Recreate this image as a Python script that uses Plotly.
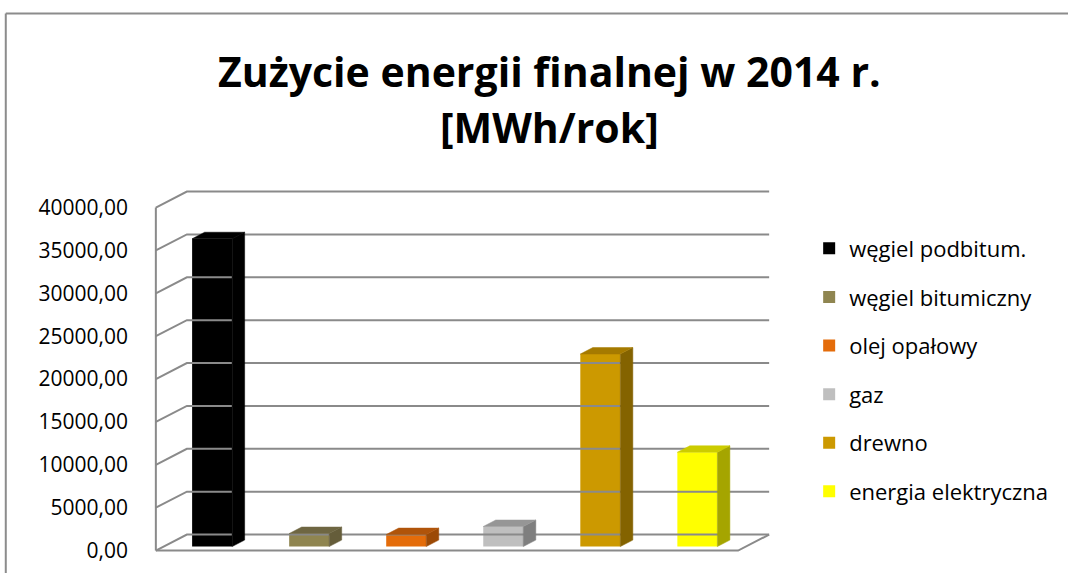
import plotly.graph_objects as go

# ---------------- data ----------------
categories = ["węgiel podbitum.", "węgiel bitumiczny", "olej opałowy", "gaz", "drewno", "energia elektryczna"]
values = [35900, 1520, 1400, 2340, 22450, 11000]
front_colors = ["#000000", "#8f8550", "#e46c0a", "#bfbfbf", "#cc9900", "#ffff00"]
side_colors = ["#000000", "#655d3a", "#9c4a06", "#7f7f7f", "#846300", "#a5a500"]
top_colors = ["#000000", "#6e6642", "#b0540a", "#969696", "#a57a00", "#cccc00"]
tick_vals = [0, 5000, 10000, 15000, 20000, 25000, 30000, 35000, 40000]
title_lines = ["Zużycie energii finalnej w 2014 r.", "[MWh/rok]"]

# ---------------- geometry (layout / 3D look) ----------------
W, H = 1068, 573
PX_X = 97.0              # pixels per category
PX_Y = 343.0 / 40000     # pixels per MWh
X0_PX = 156              # pixel of x=-0.5 (front left edge)
Y0_PX = 551              # pixel of y=0 (front floor edge)
DEPTH_X = 31 / PX_X      # wall depth offset (category units)
DEPTH_Y = 16 / PX_Y      # wall depth offset (value units)
BAR_F = 0.25             # bar plane position inside depth
BAR_W = 40 / PX_X
BAR_DX = 12.5 / PX_X
BAR_DY = 6.5 / PX_Y
PAD_X = 0.05
YMIN = -400
N = len(categories)
XMIN = -0.5 - PAD_X
XMAX = N - 0.5 + DEPTH_X + PAD_X
YMAX = tick_vals[-1] + DEPTH_Y + 300

m_left = X0_PX - PAD_X * PX_X
plot_w = (XMAX - XMIN) * PX_X
m_right = W - m_left - plot_w
m_top = Y0_PX - YMAX * PX_Y
plot_h = (YMAX - YMIN) * PX_Y
m_bottom = H - m_top - plot_h

def pxx(px):
    return (px - m_left) / plot_w

def pxy(py):
    return 1 - (py - m_top) / plot_h

GRID = "#8a8a8a"
FONT = "Open Sans"

fig = go.Figure()

# walls / gridlines
gx, gy = [], []
x_left = -0.5
x_right = N - 0.5
for t in tick_vals:
    gx += [x_left, x_left + DEPTH_X, x_right + DEPTH_X, None]
    gy += [t, t + DEPTH_Y, t + DEPTH_Y, None]
gx += [x_left, x_right, x_right + DEPTH_X, None, x_left, x_left]
gy += [0, 0, DEPTH_Y, None, 0, tick_vals[-1]]
fig.add_trace(go.Scatter(x=gx, y=gy, mode="lines", line=dict(color=GRID, width=2),
                         hoverinfo="skip", showlegend=False))

base = BAR_F * DEPTH_Y
for i, (cat, v) in enumerate(zip(categories, values)):
    xc = i + BAR_F * DEPTH_X
    xl, xr = xc - BAR_W / 2, xc + BAR_W / 2
    top = base + v
    fig.add_trace(go.Bar(x=[xc], y=[v], base=[base], width=[BAR_W], name=cat,
                         marker=dict(color=front_colors[i], line=dict(width=0)),
                         legendgroup=str(i),
                         hovertemplate=cat + ": %{y:.2f}<extra></extra>"))
    # side face
    fig.add_trace(go.Scatter(x=[xr, xr + BAR_DX, xr + BAR_DX, xr, xr],
                             y=[base, base + BAR_DY, top + BAR_DY, top, base],
                             mode="lines", fill="toself", fillcolor=side_colors[i],
                             line=dict(color=side_colors[i], width=0.5),
                             legendgroup=str(i), showlegend=False, hoverinfo="skip"))
    # top face
    fig.add_trace(go.Scatter(x=[xl, xl + BAR_DX, xr + BAR_DX, xr, xl],
                             y=[top, top + BAR_DY, top + BAR_DY, top, top],
                             mode="lines", fill="toself", fillcolor=top_colors[i],
                             line=dict(color=top_colors[i], width=0.5),
                             legendgroup=str(i), showlegend=False, hoverinfo="skip"))

# outer frame
fig.add_shape(type="line", xref="paper", yref="paper", x0=pxx(6), x1=pxx(6), y0=pxy(14), y1=pxy(H + 5),
              line=dict(color="#8c8c8c", width=2))
fig.add_shape(type="line", xref="paper", yref="paper", x0=pxx(6), x1=pxx(W + 5), y0=pxy(14), y1=pxy(14),
              line=dict(color="#8c8c8c", width=2))

# title
for txt, cy in zip(title_lines, [71, 127]):
    fig.add_annotation(text="<b>" + txt + "</b>", xref="paper", yref="paper",
                       x=pxx(549), y=pxy(cy), xanchor="center", yanchor="middle",
                       showarrow=False, font=dict(family=FONT, size=41, color="#000000"))

fig.update_layout(
    width=W, height=H,
    margin=dict(l=m_left, r=m_right, t=m_top, b=m_bottom, autoexpand=False),
    paper_bgcolor="white", plot_bgcolor="white",
    separators=", ",
    barmode="overlay",
    showlegend=True,
    legend=dict(x=pxx(809), y=pxy(228), xanchor="left", yanchor="top",
                font=dict(family=FONT, size=22, color="#000000"),
                tracegroupgap=17, traceorder="grouped", bgcolor="rgba(0,0,0,0)"),
    xaxis=dict(range=[XMIN, XMAX], showgrid=False, zeroline=False, showticklabels=False,
               showline=False, ticks="", fixedrange=True),
    yaxis=dict(range=[YMIN, YMAX], tickvals=tick_vals, tickformat=".2f", showgrid=False,
               zeroline=False, showline=False, ticks="", ticklabelstandoff=22,
               tickfont=dict(family=FONT, size=21, color="#000000"), automargin=False,
               fixedrange=True),
)

fig.write_html("out.html", config={"displayModeBar": False},
               post_script="document.body.style.margin='0';")
